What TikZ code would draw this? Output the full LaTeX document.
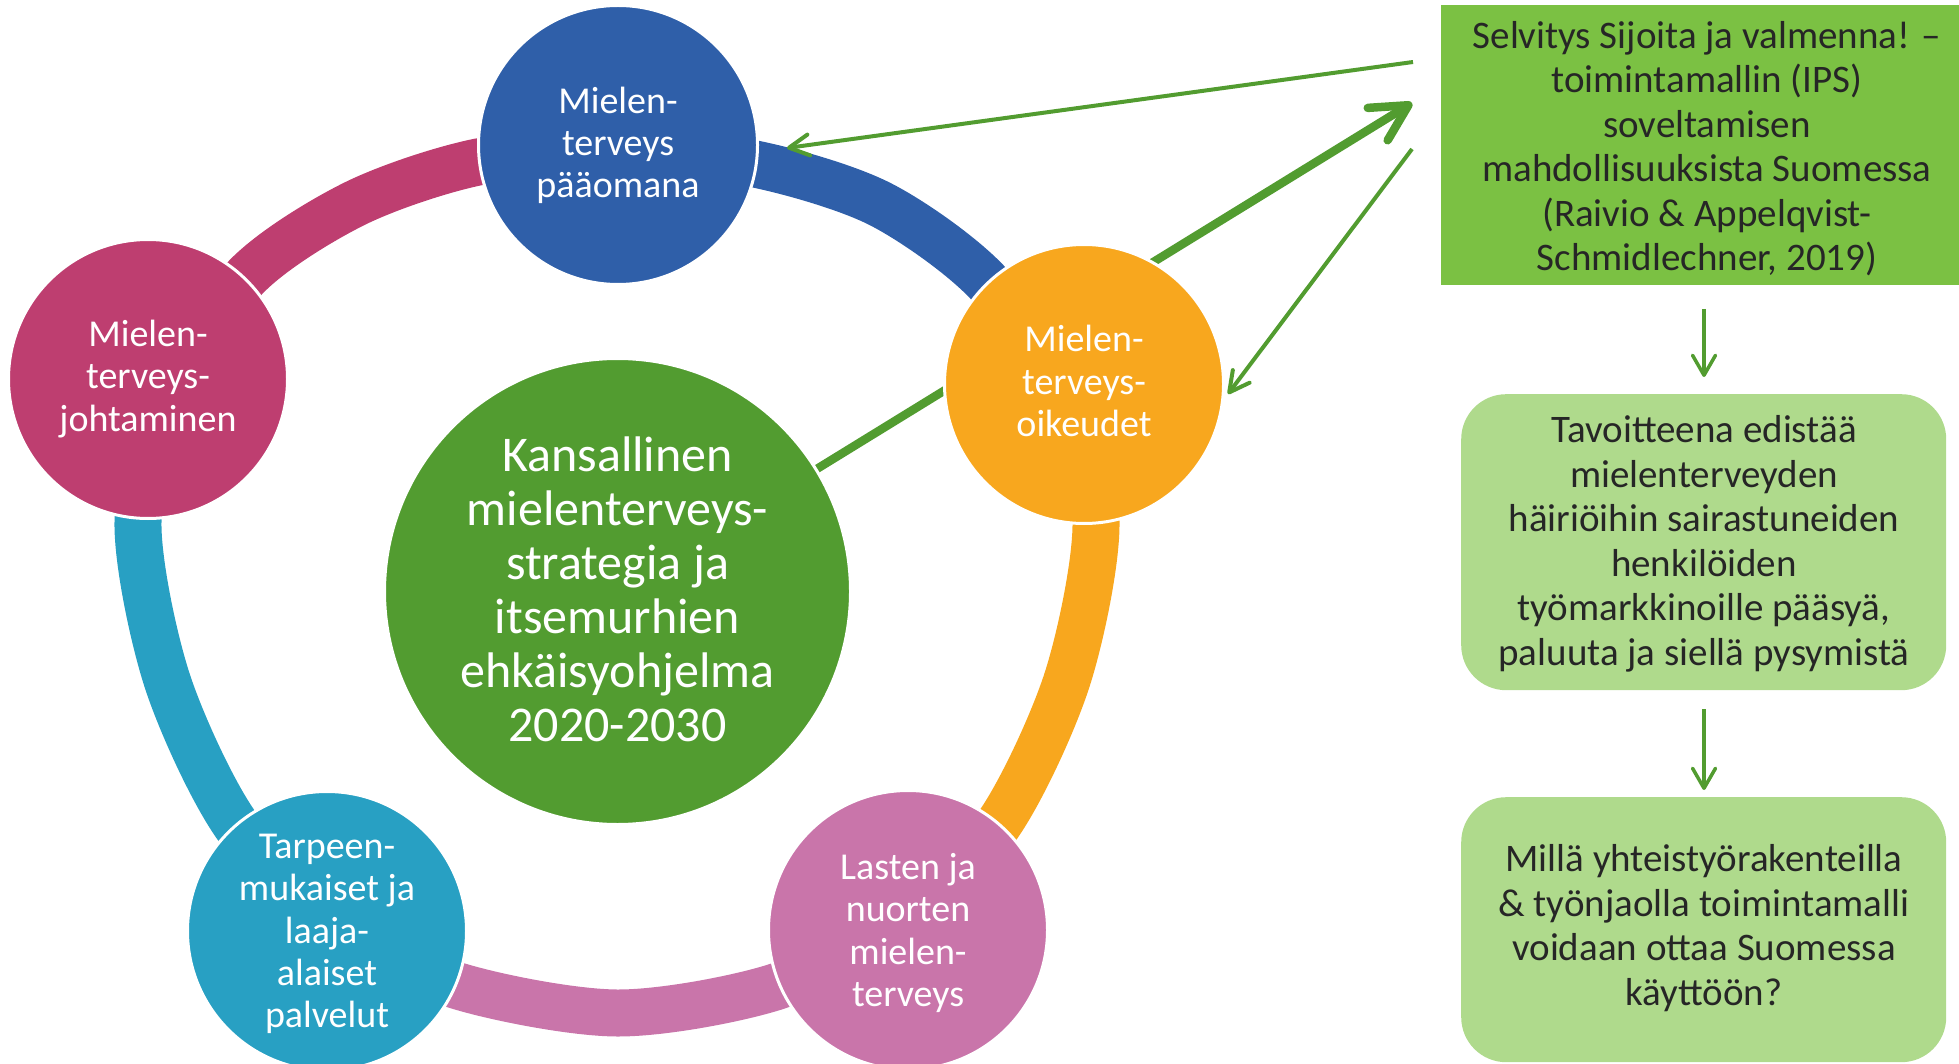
\documentclass[tikz,border=0pt]{standalone}
\usepackage{fontspec}
\setmainfont{Carlito}
\usetikzlibrary{arrows.meta}
\definecolor{cblue}{HTML}{2F5FA9}
\definecolor{cmag}{HTML}{BE3E70}
\definecolor{corange}{HTML}{F8A71E}
\definecolor{cteal}{HTML}{28A0C3}
\definecolor{cpink}{HTML}{C975AA}
\definecolor{cgreen}{HTML}{529C30}
\definecolor{boxgreen}{HTML}{7BC143}
\definecolor{lightgreen}{HTML}{AFDA8C}
\definecolor{txtdark}{HTML}{262626}
\pgfdeclarelayer{bg}
\pgfsetlayers{bg,main}
\tikzset{
  ringseg/.style={line width=47pt},
  bubble/.style={circle, draw=white, line width=3pt, minimum size=279pt, inner sep=0pt},
  bigbubble/.style={circle, draw=white, line width=3pt, minimum size=466pt, inner sep=0pt, fill=cgreen},
  btext/.style={text=white, align=center, inner sep=0pt, font=\fontsize{38}{42.3}\selectfont},
  ctext/.style={text=white, align=center, inner sep=0pt, font=\fontsize{50}{54}\selectfont},
  rtext/.style={text=txtdark, align=center, inner sep=0pt, font=\fontsize{39}{44.5}\selectfont},
  linkthin/.style={draw=cgreen, line width=4pt, -{Straight Barb[length=20pt,width=21pt,round]}},
  linkthick/.style={draw=cgreen, line width=8.5pt, -{Straight Barb[length=36pt,width=38pt,round]}},
  downarrow/.style={draw=cgreen, line width=3.5pt, -{Straight Barb[length=20pt,width=23pt,round]}},
  sqbox/.style={fill=boxgreen, inner sep=0pt, anchor=north west},
  rbox/.style={fill=lightgreen, rounded corners=45pt, inner sep=0pt, anchor=north west, minimum width=485pt},
}
\begin{document}
\begin{tikzpicture}[x=1pt,y=-1pt]
\useasboundingbox (0,0) rectangle (1959,1064);

% circles
\node[bubble, fill=cblue] (top) at (618,145) {};
\node[bubble, fill=cmag] (left) at (148,379) {};
\node[bubble, fill=corange] (right) at (1084,384) {};
\node[bubble, fill=cteal] (bl) at (327,931) {};
\node[bubble, fill=cpink] (br) at (908,930) {};
\node[bigbubble] (center) at (617.5,591.5) {};

% free ends of the connectors
\coordinate (tipA) at (787,148);
\coordinate (startA) at (1413,62);
\coordinate (tipB) at (1412,103);
\coordinate (startC) at (1412,149);
\coordinate (tipC) at (1228,394);

\begin{pgfonlayer}{bg}
  \draw[ringseg, cmag] plot[smooth] coordinates {(172,397) (245,278) (354,204) (478,162) (618,150)};
  \draw[ringseg, cblue] plot[smooth] coordinates {(618,150) (755,164) (880,204) (987,282) (1063,397)};
  \draw[ringseg, corange] plot[smooth] coordinates {(1063,397) (1096,522) (1067,680) (998,825) (896,925)};
  \draw[ringseg, cpink] plot[smooth] coordinates {(896,925) (775,987) (617,1013) (455,985) (339,925)};
  \draw[ringseg, cteal] plot[smooth] coordinates {(339,925) (236,825) (167,680) (138,522) (172,397)};
  \draw[linkthick] (center.center) -- (tipB);
  \draw[linkthin] (startA) -- (tipA);
  \draw[linkthin] (startC) -- (tipC);
\end{pgfonlayer}

% circle texts
\node[btext] (ttop) at (618,145.5) {Mielen-\\terveys\\pääomana};
\node[btext] (tleft) at (148,379) {Mielen-\\terveys-\\johtaminen};
\node[btext] (tright) at (1084,381) {Mielen-\\terveys-\\oikeudet};
\node[btext] (tbl) at (327,934) {Tarpeen-\\mukaiset ja\\laaja-\\alaiset\\palvelut};
\node[btext] (tbr) at (908,933) {Lasten ja\\nuorten\\mielen-\\terveys};
\node[ctext] (tcenter) at (617.5,589) {Kansallinen\\mielenterveys-\\strategia ja\\itsemurhien\\ehkäisyohjelma\\2020-2030};

% right column
\node[sqbox, minimum width=518pt, minimum height=280pt] (box1) at (1441,5) {};
\node[rbox, minimum height=296pt] (box2) at (1461,394) {};
\node[rbox, minimum height=265pt] (box3) at (1461,797) {};
\node[rtext] (tbox1) at (1707,148.5) {Selvitys Sijoita ja valmenna! –\\toimintamallin (IPS)\\soveltamisen\\mahdollisuuksista Suomessa\\(Raivio \& Appelqvist-\\Schmidlechner, 2019)};
\node[rtext] (tbox2) at (1704,544) {Tavoitteena edistää\\mielenterveyden\\häiriöihin sairastuneiden\\henkilöiden\\työmarkkinoille pääsyä,\\paluuta ja siellä pysymistä};
\node[rtext] (tbox3) at (1704,928) {Millä yhteistyörakenteilla\\\& työnjaolla toimintamalli\\voidaan ottaa Suomessa\\käyttöön?};

\coordinate (d1s) at (1704,309);
\coordinate (d1e) at (1704,377);
\coordinate (d2s) at (1704,709);
\coordinate (d2e) at (1704,790);
\draw[downarrow] (d1s) -- (d1e);
\draw[downarrow] (d2s) -- (d2e);
\end{tikzpicture}
\end{document}
